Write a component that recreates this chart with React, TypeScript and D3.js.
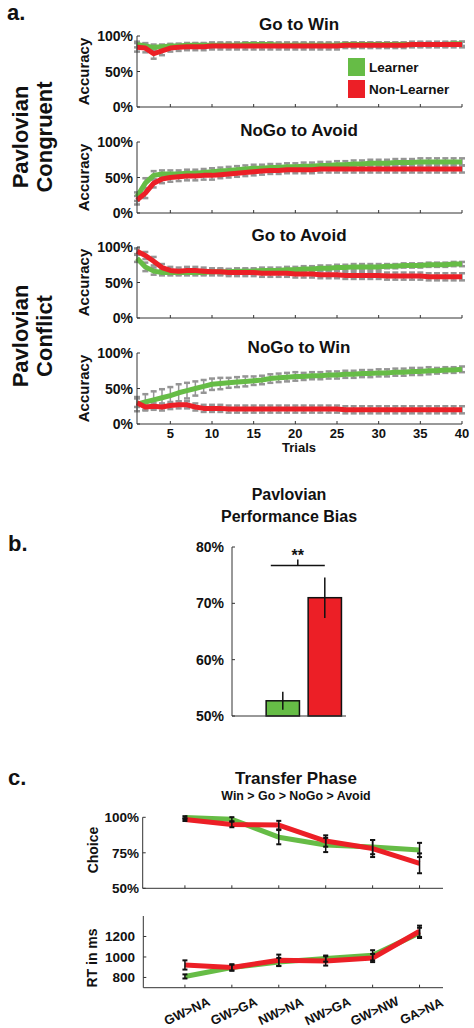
import React from "react";
import * as d3 from "d3";

const FONT = "'Liberation Sans', Arial, Helvetica, sans-serif";
const GREEN = "#66BC46";
const RED = "#EC1F26";
const GRAY = "#959595";
const AX = "#333333";

// ---------- Panel a data ----------
const trials = d3.range(1, 41);
const trialTicks = [5, 10, 15, 20, 25, 30, 35, 40];
const accTicks = [0, 50, 100];

const goWinL = [88,86,84,85,86,86,87,87,87,87, 87,87,87,88,88,88,88,87,87,87, 87,87,87,87,87,88,88,88,88,88, 88,88,88,88,88,88,88,88,89,89];
const goWinLse = [4,4,4,3,3,3,3,3,3,3, 3,3,3,3,3,3,3,3,3,3, 3,3,3,3,3,3,3,3,3,3, 3,3,3,3,3,3,3,3,3,3];
const goWinN = [84,83,75,79,83,84,85,85,85,86, 86,86,86,86,86,86,86,86,86,86, 86,86,86,86,86,87,87,87,87,87, 87,87,87,88,88,88,88,88,88,88];
const goWinNse = [6,6,7,6,5,5,5,5,5,5, 5,5,5,5,5,5,5,5,5,5, 5,5,5,5,5,4,4,4,4,4, 4,4,4,4,4,4,4,4,4,4];

const noGoAvoidL = [23,42,53,55,55,55,56,56,57,58, 59,60,61,62,63,63,64,64,65,65, 66,66,67,67,68,68,69,69,70,70, 70,71,71,71,72,72,72,72,72,72];
const noGoAvoidLse = [6,7,6,5,5,5,5,5,5,5, 5,5,5,5,5,5,5,5,5,5, 5,5,5,5,5,5,5,5,5,5, 5,5,5,5,5,5,5,5,5,5];
const noGoAvoidN = [18,28,42,48,50,51,52,52,53,53, 54,55,56,57,58,59,60,60,61,61, 61,61,62,62,62,62,62,62,62,62, 62,62,62,62,62,62,62,62,62,62];
const noGoAvoidNse = [6,7,6,6,6,6,6,6,6,6, 5,5,5,5,5,5,5,5,5,5, 5,5,5,5,5,5,5,5,5,5, 5,5,5,5,5,5,5,5,5,5];

const goAvoidL = [84,72,66,64,64,64,64,64,64,65, 65,65,66,66,66,67,67,67,68,68, 69,69,70,70,71,71,72,72,72,72, 73,73,74,74,74,75,75,75,76,76];
const goAvoidLse = [5,6,5,4,4,4,4,4,4,4, 4,4,4,4,4,4,4,4,4,4, 4,4,4,4,4,4,4,4,4,4, 3,3,3,3,3,3,3,3,3,3];
const goAvoidN = [94,88,80,71,67,66,67,67,66,65, 65,64,64,64,64,63,63,63,63,62, 62,62,61,61,61,60,60,60,60,60, 59,59,59,59,59,58,58,58,58,58];
const goAvoidNse = [4,5,6,5,5,5,5,5,5,5, 5,5,5,5,5,5,5,5,5,5, 5,5,5,5,5,5,5,5,5,5, 5,5,5,5,5,5,5,5,5,5];

const noGoWinL = [28,31,34,37,40,44,47,50,53,56, 57,58,59,60,61,62,64,65,66,67, 67,68,68,69,69,70,70,71,71,72, 72,73,73,74,74,75,75,76,76,77];
const noGoWinLse = [10,11,12,12,12,12,11,10,9,8, 8,7,7,7,6,6,6,6,6,6, 5,5,5,5,5,5,5,5,5,5, 5,5,5,5,5,5,4,4,4,4];
const noGoWinN = [30,24,25,24,26,27,27,24,22,22, 22,21,21,21,21,21,21,21,21,21, 21,21,21,21,21,20,20,20,20,20, 20,20,20,20,20,20,20,20,20,20];
const noGoWinNse = [6,5,5,5,5,5,5,5,5,5, 5,5,5,5,5,5,5,5,5,5, 5,5,5,5,5,5,5,5,5,5, 5,5,5,5,5,5,5,5,5,5];

const groupNames = ["Learner", "Non-Learner"];

// ---------- Panel b data ----------
const biasMeans = [52.7, 71.0];
const biasSE = [1.6, 3.6];
const biasTicks = [50, 60, 70, 80];

// ---------- Panel c data ----------
const pairs = ["GW>NA", "GW>GA", "NW>NA", "NW>GA", "GW>NW", "GA>NA"];
const choiceL = [99.8, 98.6, 86, 80.5, 79, 77];
const choiceLse = [1, 1.5, 5, 5, 5, 5];
const choiceN = [98.4, 95, 94.5, 83.3, 78, 67.6];
const choiceNse = [1, 2, 3, 4, 6, 7];
const choiceTicks = [50, 75, 100];
const rtL = [810, 897, 951, 984, 1016, 1235];
const rtLse = [20, 30, 40, 30, 50, 50];
const rtN = [922, 897, 968, 961, 990, 1251];
const rtNse = [45, 30, 55, 45, 40, 55];
const rtTicks = [800, 1000, 1200];

const subplots = [
  { title: "Go to Win", top: 36, titleDy: -12, L: goWinL, Lse: goWinLse, N: goWinN, Nse: goWinNse },
  { title: "NoGo to Avoid", top: 142, titleDy: -12, L: noGoAvoidL, Lse: noGoAvoidLse, N: noGoAvoidN, Nse: noGoAvoidNse },
  { title: "Go to Avoid", top: 247, titleDy: -12, L: goAvoidL, Lse: goAvoidLse, N: goAvoidN, Nse: goAvoidNse },
  { title: "NoGo to Win", top: 353, titleDy: -6, L: noGoWinL, Lse: noGoWinLse, N: noGoWinN, Nse: noGoWinNse },
];

const T = (props: any) => (
  <text fontFamily={FONT} fontWeight="bold" fill="#111" {...props} />
);

function ErrBars({ xs, ms, ses, y, color, cap, sw, capw }: any) {
  return (
    <g stroke={color}>
      {ms.map((m: number, i: number) => {
        const x = xs[i];
        const y1 = y(m + ses[i]);
        const y0 = y(m - ses[i]);
        return (
          <g key={i}>
            <line x1={x} x2={x} y1={y1} y2={y0} strokeWidth={sw} />
            <line x1={x - cap} x2={x + cap} y1={y1} y2={y1} strokeWidth={capw} />
            <line x1={x - cap} x2={x + cap} y1={y0} y2={y0} strokeWidth={capw} />
          </g>
        );
      })}
    </g>
  );
}

function Subplot({ cfg, idx }: any) {
  const x = d3.scaleLinear().domain([1, 40]).range([137, 462]);
  const bottom = cfg.top + 71;
  const y = d3.scaleLinear().domain([0, 100]).range([bottom, cfg.top]);
  const line = d3.line<number>().x((d, i) => x(trials[i])).y((d) => y(d));
  const xs = trials.map((t) => x(t));
  return (
    <g>
      <T x={299} y={cfg.top + cfg.titleDy + 6} fontSize={17} textAnchor="middle">{cfg.title}</T>
      <T transform={`translate(88.5,${(cfg.top + bottom) / 2}) rotate(-90)`} fontSize={15} textAnchor="middle">Accuracy</T>
      <ErrBars xs={xs} ms={cfg.L} ses={cfg.Lse} y={y} color={GRAY} cap={3} sw={1.5} capw={2.5} />
      <ErrBars xs={xs} ms={cfg.N} ses={cfg.Nse} y={y} color={GRAY} cap={3} sw={1.5} capw={2.5} />
      <path d={line(cfg.L) || ""} fill="none" stroke={GREEN} strokeWidth={5} strokeLinejoin="round" />
      <path d={line(cfg.N) || ""} fill="none" stroke={RED} strokeWidth={5} strokeLinejoin="round" />
      <line x1={137} x2={137} y1={cfg.top} y2={bottom} stroke={AX} strokeWidth={1} />
      <line x1={137} x2={462} y1={bottom} y2={bottom} stroke={AX} strokeWidth={1} />
      {accTicks.map((v) => (
        <g key={v}>
          <line x1={137} x2={140} y1={y(v)} y2={y(v)} stroke={AX} />
          <T x={133} y={y(v) + 5} fontSize={14} textAnchor="end">{v + "%"}</T>
        </g>
      ))}
      {trialTicks.map((v) => (
        <g key={v}>
          <line x1={x(v)} x2={x(v)} y1={bottom} y2={bottom - 3} stroke={AX} />
          {idx === 3 && (
            <T x={x(v)} y={bottom + 14} fontSize={13} textAnchor="middle">{v}</T>
          )}
        </g>
      ))}
      {idx === 3 && (
        <T x={299} y={bottom + 28} fontSize={13} textAnchor="middle">Trials</T>
      )}
      {idx === 0 && (
        <g>
          <rect x={348} y={58} width={17} height={18} fill={GREEN} />
          <rect x={348} y={80} width={17} height={18} fill={RED} />
          <T x={369} y={72} fontSize={13.5}>{groupNames[0]}</T>
          <T x={369} y={94} fontSize={13.5}>{groupNames[1]}</T>
        </g>
      )}
    </g>
  );
}

function PanelB() {
  const x = d3.scaleBand<string>().domain(groupNames).range([261.8, 345.8]).paddingInner(0.207).paddingOuter(0.1035);
  const y = d3.scaleLinear().domain([50, 80]).range([716, 547]);
  const bw = x.bandwidth();
  const gx = (x(groupNames[0]) || 0) + bw / 2;
  const rx = (x(groupNames[1]) || 0) + bw / 2;
  const colors = [GREEN, RED];
  return (
    <g>
      <T x={8} y={551} fontSize={22}>b.</T>
      <T x={289} y={500} fontSize={16} textAnchor="middle">Pavlovian</T>
      <T x={289} y={522} fontSize={16} textAnchor="middle">Performance Bias</T>
      {groupNames.map((g, i) => (
        <g key={g}>
          <rect x={x(g)} y={y(biasMeans[i])} width={bw} height={y(50) - y(biasMeans[i])} fill={colors[i]} stroke="#111" strokeWidth={1.5} />
          <line x1={(x(g) || 0) + bw / 2} x2={(x(g) || 0) + bw / 2} y1={y(biasMeans[i] + biasSE[i])} y2={y(biasMeans[i] - biasSE[i])} stroke="#111" strokeWidth={1.5} />
        </g>
      ))}
      <line x1={232} x2={232} y1={y(80)} y2={y(50)} stroke={AX} />
      <line x1={232} x2={346} y1={y(50)} y2={y(50)} stroke={AX} />
      {biasTicks.map((v) => (
        <g key={v}>
          <line x1={232} x2={235} y1={y(v)} y2={y(v)} stroke={AX} />
          <T x={224} y={y(v) + 5} fontSize={14} textAnchor="end">{v + "%"}</T>
        </g>
      ))}
      <line x1={gx - 12} x2={rx} y1={y(76.7)} y2={y(76.7)} stroke="#111" strokeWidth={1.5} />
      <line x1={(gx - 12 + rx) / 2} x2={(gx - 12 + rx) / 2} y1={y(76.7)} y2={y(77.8)} stroke="#111" strokeWidth={1.5} />
      <T x={(gx - 12 + rx) / 2} y={561} fontSize={16} textAnchor="middle">**</T>
    </g>
  );
}

function PanelC() {
  const x = d3.scaleLinear().domain([0.1, 6.5]).range([142.7, 443]);
  const xs = pairs.map((p, i) => x(i + 1));
  const yC = d3.scaleLinear().domain([50, 100]).range([888.3, 817.3]);
  const yR = d3.scaleLinear().domain([700, 1400]).range([987.7, 916]);
  const lineC = d3.line<number>().x((d, i) => xs[i]).y((d) => yC(d));
  const lineR = d3.line<number>().x((d, i) => xs[i]).y((d) => yR(d));
  return (
    <g>
      <T x={8} y={785} fontSize={22}>c.</T>
      <T x={296} y={784} fontSize={17} textAnchor="middle">Transfer Phase</T>
      <T x={296} y={799.5} fontSize={12.4} textAnchor="middle">{"Win > Go > NoGo > Avoid"}</T>

      {/* Choice */}
      <T transform={`translate(97.5,850) rotate(-90)`} fontSize={14} textAnchor="middle">Choice</T>
      <path d={lineC(choiceL) || ""} fill="none" stroke={GREEN} strokeWidth={5} strokeLinejoin="round" />
      <path d={lineC(choiceN) || ""} fill="none" stroke={RED} strokeWidth={5} strokeLinejoin="round" />
      <ErrBars xs={xs} ms={choiceL} ses={choiceLse} y={yC} color="#111" cap={2.5} sw={1.5} capw={2} />
      <ErrBars xs={xs} ms={choiceN} ses={choiceNse} y={yC} color="#111" cap={2.5} sw={1.5} capw={2} />
      <line x1={142.7} x2={142.7} y1={yC(100)} y2={yC(50)} stroke={AX} />
      <line x1={142.7} x2={443} y1={yC(50)} y2={yC(50)} stroke={AX} />
      {choiceTicks.map((v) => (
        <g key={v}>
          <line x1={142.7} x2={145.7} y1={yC(v)} y2={yC(v)} stroke={AX} />
          <T x={139} y={yC(v) + 5} fontSize={13.5} textAnchor="end">{v + "%"}</T>
        </g>
      ))}
      {xs.map((xx, i) => (
        <line key={i} x1={xx} x2={xx} y1={yC(50)} y2={yC(50) - 3} stroke={AX} />
      ))}

      {/* RT */}
      <T transform={`translate(96.5,958) rotate(-90)`} fontSize={14} textAnchor="middle">RT in ms</T>
      <path d={lineR(rtL) || ""} fill="none" stroke={GREEN} strokeWidth={5} strokeLinejoin="round" />
      <path d={lineR(rtN) || ""} fill="none" stroke={RED} strokeWidth={5} strokeLinejoin="round" />
      <ErrBars xs={xs} ms={rtL} ses={rtLse} y={yR} color="#111" cap={2.5} sw={1.5} capw={2} />
      <ErrBars xs={xs} ms={rtN} ses={rtNse} y={yR} color="#111" cap={2.5} sw={1.5} capw={2} />
      <line x1={143.3} x2={143.3} y1={yR(1400)} y2={yR(700)} stroke={AX} />
      <line x1={143.3} x2={443} y1={yR(700)} y2={yR(700)} stroke={AX} />
      {rtTicks.map((v) => (
        <g key={v}>
          <line x1={143.3} x2={146.3} y1={yR(v)} y2={yR(v)} stroke={AX} />
          <T x={135} y={yR(v) + 5} fontSize={13.5} textAnchor="end">{v}</T>
        </g>
      ))}
      {xs.map((xx, i) => (
        <g key={i}>
          <line x1={xx} x2={xx} y1={yR(700)} y2={yR(700) - 3} stroke={AX} />
          <T transform={`translate(${xx + 2},${1011}) rotate(-25)`} dy="0.35em" fontSize={13} textAnchor="middle">{pairs[i]}</T>
        </g>
      ))}
    </g>
  );
}

export default function App() {
  return (
    <svg width={474} height={1028} style={{ position: "absolute", left: 0, top: 0, background: "#fff" }}>
      <rect x={0} y={0} width={474} height={1028} fill="#fff" />
      <T x={7} y={20} fontSize={22}>a.</T>
      <T transform="translate(28,137) rotate(-90)" fontSize={22} textAnchor="middle">Pavlovian</T>
      <T transform="translate(52,137) rotate(-90)" fontSize={22} textAnchor="middle">Congruent</T>
      <T transform="translate(28,336) rotate(-90)" fontSize={22} textAnchor="middle">Pavlovian</T>
      <T transform="translate(52,336) rotate(-90)" fontSize={22} textAnchor="middle">Conflict</T>
      {subplots.map((cfg, i) => (
        <Subplot key={cfg.title} cfg={cfg} idx={i} />
      ))}
      <PanelB />
      <PanelC />
    </svg>
  );
}
